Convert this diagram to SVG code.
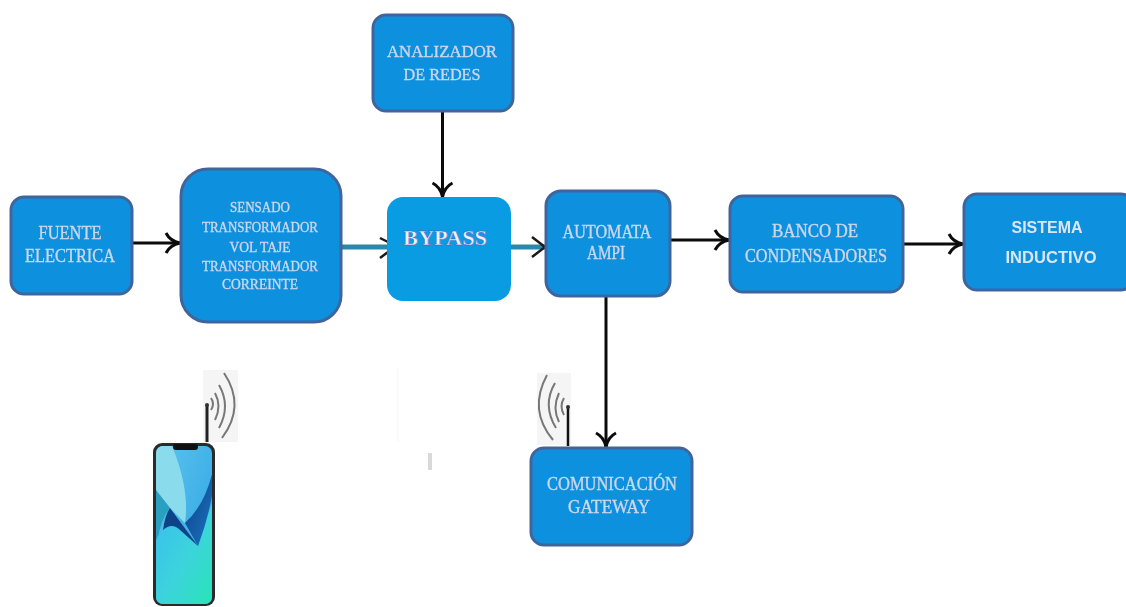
<svg xmlns="http://www.w3.org/2000/svg" width="1126" height="607" viewBox="0 0 1126 607">
<style>
.box{fill:#1190de;stroke:#3f659c;stroke-width:3;filter:url(#soft)}
.t{font-family:"Liberation Serif","Times New Roman",serif;fill:#cdd7ea;stroke:#cdd7ea;stroke-width:.35;text-anchor:middle;filter:url(#soft)}
.s{font-family:"Liberation Sans",Arial,sans-serif;font-weight:bold;fill:#dbe6f4;text-anchor:middle;filter:url(#soft)}
.c{fill:none;stroke:#0b0b0b;stroke-width:3;marker-end:url(#open)}
.cb{fill:none;stroke:#2c88a8;stroke-width:5}
.w{fill:none;stroke:#777;stroke-width:2}
.a{stroke:#1a1a1a;stroke-width:2.500;fill:none}
</style>
<defs>
<filter id="soft" x="-10%" y="-30%" width="120%" height="160%"><feGaussianBlur stdDeviation="0.5"/></filter>
<marker id="open" markerUnits="userSpaceOnUse" markerWidth="20" markerHeight="26" refX="16" refY="13" orient="auto">
<path d="M2 3 Q6 11 16 13 Q6 15 2 23" fill="none" stroke="#0b0b0b" stroke-width="3"/>
</marker>
<linearGradient id="screen" x1="0" y1="0" x2="1" y2="1">
<stop offset="0" stop-color="#5ec4ee"/><stop offset="1" stop-color="#2aa2e2"/>
</linearGradient>
<linearGradient id="low" x1="0" y1="0" x2="1" y2="1">
<stop offset="0" stop-color="#38bdf0"/><stop offset=".55" stop-color="#3cd4dc"/><stop offset="1" stop-color="#28e4b4"/>
</linearGradient>
<linearGradient id="navy" x1="0" y1="0" x2="1" y2="1">
<stop offset="0" stop-color="#0d3f86"/><stop offset="1" stop-color="#1b74c0"/>
</linearGradient>
<clipPath id="scr"><rect x="156" y="446" width="56" height="158" rx="7"/></clipPath>
</defs>
<rect width="1126" height="607" fill="#fff"/>

<g id="connectors">
<path class="c" d="M132 243H180"/>
<path class="cb" d="M342 247H387"/>
<path d="M380 238l8 4M380 258l8-6" class="a"/>
<path class="cb" d="M511 247H545"/>
<path d="M532 237l13 10-13 10" class="a"/>
<path class="c" d="M671 240H729"/>
<path class="c" d="M904 244H963"/>
<path class="c" d="M442.500 112V197"/>
<path class="c" d="M606 297V447"/>
</g>

<g id="fuente">
<rect class="box" x="11" y="197" width="121" height="97" rx="13"/>
<text class="t" x="70" y="239" font-size="19" textLength="63" lengthAdjust="spacingAndGlyphs">FUENTE</text>
<text class="t" x="70" y="262" font-size="19" textLength="90" lengthAdjust="spacingAndGlyphs">ELECTRICA</text>
</g>
<g id="sensado">
<rect class="box" x="181" y="169" width="160" height="153" rx="27"/>
<text class="t" x="260" y="212" font-size="14.500" textLength="60" lengthAdjust="spacingAndGlyphs">SENSADO</text>
<text class="t" x="260" y="232" font-size="14.500" textLength="116" lengthAdjust="spacingAndGlyphs">TRANSFORMADOR</text>
<text class="t" x="260" y="252" font-size="14.500" textLength="61" lengthAdjust="spacingAndGlyphs">VOL TAJE</text>
<text class="t" x="260" y="271" font-size="14.500" textLength="116" lengthAdjust="spacingAndGlyphs">TRANSFORMADOR</text>
<text class="t" x="260" y="289" font-size="14.500" textLength="76" lengthAdjust="spacingAndGlyphs">CORREINTE</text>
</g>
<g id="analizador">
<rect class="box" x="373" y="15" width="140" height="96" rx="13"/>
<text class="t" x="442" y="57" font-size="17.500" textLength="110" lengthAdjust="spacingAndGlyphs">ANALIZADOR</text>
<text class="t" x="442" y="80" font-size="17.500" textLength="77" lengthAdjust="spacingAndGlyphs">DE REDES</text>
</g>
<g id="bypass">
<rect x="387" y="197" width="124" height="104" rx="16" fill="#0a9ce2"/>
<text x="445" y="245" font-family="'Liberation Serif','Times New Roman',serif" font-weight="bold" font-size="20" fill="#eef0fb" stroke="#5a45c0" stroke-width=".35" text-anchor="middle" textLength="84" lengthAdjust="spacingAndGlyphs">BYPASS</text>
</g>
<g id="automata">
<rect class="box" x="546" y="191" width="124" height="105" rx="15"/>
<text class="t" x="607" y="238" font-size="18" textLength="89" lengthAdjust="spacingAndGlyphs">AUTOMATA</text>
<text class="t" x="606" y="259" font-size="18" textLength="38" lengthAdjust="spacingAndGlyphs">AMPI</text>
</g>
<g id="banco">
<rect class="box" x="730" y="196" width="173" height="96" rx="13"/>
<text class="t" x="815" y="237" font-size="18" textLength="86" lengthAdjust="spacingAndGlyphs">BANCO DE</text>
<text class="t" x="816" y="262" font-size="18" textLength="142" lengthAdjust="spacingAndGlyphs">CONDENSADORES</text>
</g>
<g id="sistema">
<rect class="box" x="964" y="194" width="170" height="96" rx="13"/>
<text class="s" x="1047" y="233" font-size="17" textLength="71" lengthAdjust="spacingAndGlyphs">SISTEMA</text>
<text class="s" x="1051" y="263" font-size="17" textLength="91" lengthAdjust="spacingAndGlyphs">INDUCTIVO</text>
</g>
<g id="comunicacion">
<rect class="box" x="531" y="448" width="161" height="97" rx="13"/>
<text class="t" x="612" y="490" font-size="18" textLength="130" lengthAdjust="spacingAndGlyphs">COMUNICACIÓN</text>
<text class="t" x="609" y="513" font-size="18" textLength="82" lengthAdjust="spacingAndGlyphs">GATEWAY</text>
</g>

<g id="gateway-antenna">
<rect x="537" y="373" width="34" height="72" fill="#f5f5f5"/>
<path d="M568 446V407" stroke="#111" stroke-width="2.500" fill="none"/>
<circle cx="568" cy="407" r="2" fill="#333"/>
<path class="w" d="M564 398Q559 406 564 415M559 393Q552 408 559 422M555 383Q542 405 556 428M547 375Q528 410 553 440"/>
</g>

<g id="phone">
<rect x="203" y="370" width="35" height="72" fill="#f5f5f5"/>
<path d="M207 442V405" stroke="#222" stroke-width="3" fill="none"/>
<circle cx="207" cy="405" r="2" fill="#333"/>
<path class="w" d="M211 398Q215 404 211 410M215 393Q222 406 215 420M219 385Q231 406 219 428M224 373Q246 406 222 438"/>
<rect x="153" y="443" width="62" height="163" rx="9" fill="#2b2b2b"/>
<g clip-path="url(#scr)">
<rect x="156" y="446" width="56" height="158" fill="url(#screen)"/>
<path d="M156 446H172Q190 490 185 523L170 508L156 490Z" fill="#8adcec"/>
<path d="M156 490L170 508Q160 520 158 540H156Z" fill="#2aa0c0"/>
<path d="M156 540Q165 520 178 528L198 546L213 500V604H156Z" fill="url(#low)"/>
<path d="M163 530Q165 515 170 508L198 546L180 530Q172 522 163 530Z" fill="#0d4488"/>
<path d="M185 523L198 546Q208 520 213 490V470Q205 505 185 523Z" fill="url(#navy)"/>
</g>
<rect x="173" y="444" width="25" height="6" rx="3" fill="#111"/>
</g>

<g id="marks">
<rect x="428" y="453" width="4" height="17" fill="#d9d9d9" filter="url(#soft)"/>
<path d="M398 368V442" stroke="#f5f5f5" stroke-width="1"/>
</g>
</svg>
